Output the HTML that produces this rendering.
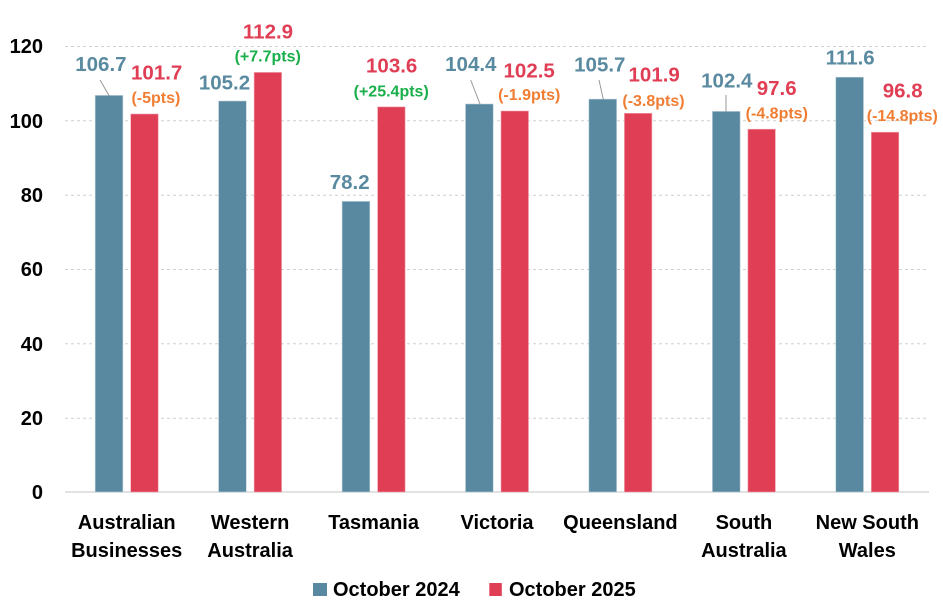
<!DOCTYPE html>
<html>
<head>
<meta charset="utf-8">
<style>
html,body{margin:0;padding:0;background:#fff;}
svg{display:block;}
text{font-family:"Liberation Sans",Arial,sans-serif;font-weight:bold;}
</style>
</head>
<body>
<svg width="943" height="616" viewBox="0 0 943 616" xmlns="http://www.w3.org/2000/svg">
<rect width="943" height="616" fill="#fff"/>
<!-- gridlines -->
<g stroke="#d0d0d0" stroke-width="1" stroke-dasharray="3,3">
<line x1="65" y1="46.5" x2="929" y2="46.5"/>
<line x1="65" y1="120.8" x2="929" y2="120.8"/>
<line x1="65" y1="195.2" x2="929" y2="195.2"/>
<line x1="65" y1="269.5" x2="929" y2="269.5"/>
<line x1="65" y1="343.8" x2="929" y2="343.8"/>
<line x1="65" y1="418.2" x2="929" y2="418.2"/>
</g>
<line x1="65" y1="492" x2="929" y2="492" stroke="#d9d9d9" stroke-width="1.5"/>
<!-- y labels -->
<g font-size="20" fill="#000" text-anchor="end">
<text x="43" y="53">120</text>
<text x="43" y="128">100</text>
<text x="43" y="202">80</text>
<text x="43" y="276">60</text>
<text x="43" y="351">40</text>
<text x="43" y="425">20</text>
<text x="43" y="499">0</text>
</g>
<!-- bars: scale 3.7167/unit, baseline 492 -->
<g fill="#5889a0" stroke="#b9cfd9" stroke-width="0.6">
<rect x="95.2" y="95.4" width="27.7" height="396.6"/>
<rect x="218.6" y="101.0" width="27.7" height="391.0"/>
<rect x="342.1" y="201.4" width="27.7" height="290.6"/>
<rect x="465.5" y="104.0" width="27.7" height="388.0"/>
<rect x="588.9" y="99.1" width="27.7" height="392.9"/>
<rect x="712.4" y="111.4" width="27.7" height="380.6"/>
<rect x="835.8" y="77.2" width="27.7" height="414.8"/>
</g>
<g fill="#e03e55" stroke="#f1a5b0" stroke-width="0.6">
<rect x="130.7" y="114.0" width="27.5" height="378.0"/>
<rect x="254.1" y="72.4" width="27.5" height="419.6"/>
<rect x="377.6" y="106.9" width="27.5" height="385.1"/>
<rect x="501.0" y="111.0" width="27.5" height="381.0"/>
<rect x="624.4" y="113.3" width="27.5" height="378.7"/>
<rect x="747.9" y="129.2" width="27.5" height="362.8"/>
<rect x="871.3" y="132.2" width="27.5" height="359.8"/>
</g>
<!-- leader lines -->
<g stroke="#999" stroke-width="1">
<line x1="100" y1="80" x2="109.3" y2="96"/>
<line x1="470.7" y1="80" x2="480" y2="104"/>
<line x1="599" y1="80" x2="603.3" y2="99.3"/>
<line x1="726" y1="95" x2="726" y2="112"/>
</g>
<!-- value labels -->
<g font-size="20.5" text-anchor="middle">
<text x="100.9" y="71" fill="#5a8aa0">106.7</text>
<text x="156.7" y="79.3" fill="#e03e55">101.7</text>
<text x="224.5" y="89.3" fill="#5a8aa0">105.2</text>
<text x="268" y="38.3" fill="#e03e55">112.9</text>
<text x="391.7" y="72.7" fill="#e03e55">103.6</text>
<text x="349.7" y="189" fill="#5a8aa0">78.2</text>
<text x="470.8" y="71" fill="#5a8aa0">104.4</text>
<text x="529.2" y="77.3" fill="#e03e55">102.5</text>
<text x="599.8" y="71.7" fill="#5a8aa0">105.7</text>
<text x="654.2" y="81.7" fill="#e03e55">101.9</text>
<text x="726.8" y="87.3" fill="#5a8aa0">102.4</text>
<text x="776.7" y="95" fill="#e03e55">97.6</text>
<text x="850.2" y="64.3" fill="#5a8aa0">111.6</text>
<text x="902.7" y="97.7" fill="#e03e55">96.8</text>
</g>
<g font-size="16" text-anchor="middle">
<text x="155.9" y="103" fill="#f07d32">(-5pts)</text>
<text x="267.7" y="61.7" fill="#1aaf4b">(+7.7pts)</text>
<text x="391.2" y="96.7" fill="#1aaf4b">(+25.4pts)</text>
<text x="529.2" y="100" fill="#f07d32">(-1.9pts)</text>
<text x="653.5" y="106" fill="#f07d32">(-3.8pts)</text>
<text x="776.8" y="118.3" fill="#f07d32">(-4.8pts)</text>
<text x="902.3" y="121" fill="#f07d32">(-14.8pts)</text>
</g>
<!-- category labels -->
<g font-size="20" fill="#000" text-anchor="middle">
<text x="126.7" y="529">Australian</text>
<text x="126.7" y="557">Businesses</text>
<text x="250.1" y="529">Western</text>
<text x="250.1" y="557">Australia</text>
<text x="373.6" y="529">Tasmania</text>
<text x="497" y="529">Victoria</text>
<text x="620.4" y="529">Queensland</text>
<text x="743.9" y="529">South</text>
<text x="743.9" y="557">Australia</text>
<text x="867.3" y="529">New South</text>
<text x="867.3" y="557">Wales</text>
</g>
<!-- legend -->
<rect x="313" y="583" width="14" height="13" fill="#5889a0"/>
<text x="333" y="596" font-size="20" fill="#000">October 2024</text>
<rect x="489.3" y="583" width="12.5" height="13" fill="#e03e55"/>
<text x="509" y="596" font-size="20" fill="#000">October 2025</text>
</svg>
</body>
</html>
